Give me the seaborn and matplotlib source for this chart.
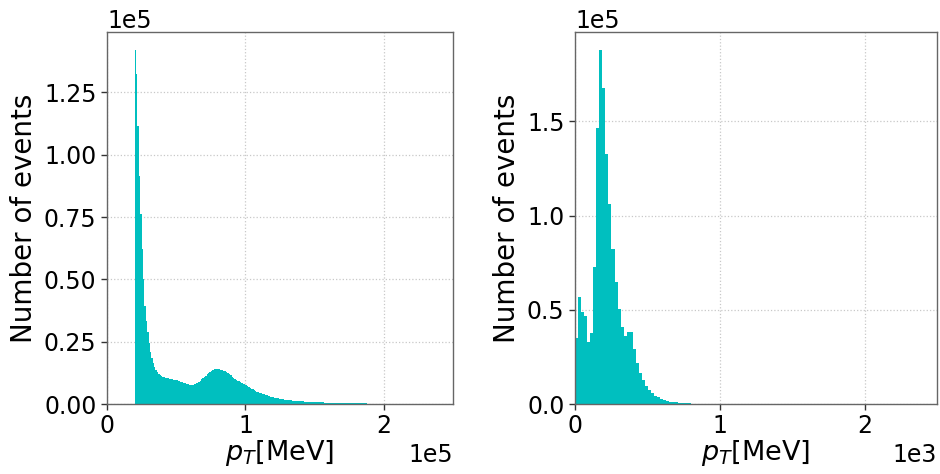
import numpy as np
import pandas as pd
import matplotlib
matplotlib.use("Agg")
import matplotlib.pyplot as plt
import seaborn as sns

# ---- data (counts per bin) ----
left_bin_start = 20000      # MeV
left_bin_width = 1000       # MeV
left_counts = [
    142100, 132500, 111600, 91600, 76200, 62200, 50100, 39400, 33400, 29000,
    24500, 21000, 18600, 16500, 14900, 13700, 12800, 12100, 11600, 11200,
    10900, 10700, 10500, 10400, 10300, 10200, 10000, 9900, 9800, 9600,
    9500, 9300, 9100, 8900, 8700, 8500, 8300, 8100, 7900, 7800,
    7700, 7700, 7800, 8000, 8300, 8600, 9000, 9400, 9900, 10300,
    10800, 11400, 12000, 12500, 13000, 13400, 13700, 13900, 14000, 14000,
    14000, 13900, 13800, 13600, 13400, 13100, 12700, 12300, 11900, 11500,
    11000, 10600, 10200, 9800, 9400, 9100, 8800, 8500, 8200, 7900,
    7700, 7300, 6900, 6600, 6200, 5900, 5600, 5300, 5000, 4700,
    4500, 4300, 4100, 3900, 3700, 3500, 3300, 3100, 3000, 2800,
    2700, 2600, 2400, 2300, 2200, 2100, 2000, 1900, 1800, 1700,
    1650, 1600, 1500, 1450, 1400, 1350, 1300, 1250, 1200, 1150,
    1100, 1050, 1000, 950, 900, 880, 850, 820, 800, 770,
    740, 720, 700, 680, 660, 640, 620, 600, 380, 370,
    360, 360, 350, 350, 340, 340, 330, 330, 320, 320,
    310, 310, 300, 300, 290, 290, 280, 280, 270, 270,
    260, 260, 250, 250, 250, 240, 240, 240,
]

right_bin_width = 21        # MeV
right_counts = [
    35000, 56800, 48800, 46500, 32700, 37700, 72500, 146500, 188100, 167700,
    132900, 106200, 82300, 64800, 50700, 40700, 35900, 38200, 38000, 29300,
    22000, 16300, 12500, 9700, 7200, 5800, 4000, 3500, 2800, 2300,
    1600, 1200, 1100, 800, 700, 500, 300, 300,
]

xtick_labels_left = [0, 1e5, 2e5]
ytick_left = [0, 0.25e5, 0.5e5, 0.75e5, 1.0e5, 1.25e5]
xtick_labels_right = [0, 1e3, 2e3]
ytick_right = [0, 0.5e5, 1.0e5, 1.5e5]

bar_color = "#00bfbf"

sns.set_style("ticks")
plt.rcParams['font.family'] = ['DejaVu Sans']
plt.rcParams['text.color'] = 'black'
plt.rcParams['axes.labelcolor'] = 'black'
plt.rcParams['xtick.color'] = 'black'
plt.rcParams['ytick.color'] = 'black'

fig = plt.figure(figsize=(9.4, 4.74), dpi=100)
ax1 = fig.add_axes([107 / 940, 70 / 474, 346 / 940, 372 / 474])
ax2 = fig.add_axes([575 / 940, 70 / 474, 362 / 940, 372 / 474])


def draw(ax, start, width, counts, xmax, xticks, yticks):
    n = len(counts)
    edges = [float(start + width * i) for i in range(n + 1)]
    centers = [(edges[i] + edges[i + 1]) / 2 for i in range(n)]
    df = pd.DataFrame({"pt": centers, "n": counts})
    sns.histplot(data=df, x="pt", weights="n", bins=edges, element="step",
                 fill=True, color=bar_color, alpha=1, linewidth=0, ax=ax)
    ax.set_xlim(0, xmax)
    ax.set_xticks(xticks)
    ax.set_yticks(yticks)
    ax.ticklabel_format(style='sci', axis='both', scilimits=(0, 0))
    ax.grid(True, linestyle=':', color='#c8c8c8', linewidth=0.9)
    ax.set_axisbelow(True)
    for s in ax.spines.values():
        s.set_visible(True)
        s.set_color('#666666')
        s.set_linewidth(1.0)
    ax.tick_params(axis='both', labelsize=17, length=4, width=1,
                   color='#333333', labelcolor='black', direction='out')
    ax.xaxis.get_offset_text().set_fontsize(17)
    ax.yaxis.get_offset_text().set_fontsize(17)
    ax.set_xlabel("$p_T$[MeV]", fontsize=19.5, color='black', labelpad=0)
    ax.set_ylabel("Number of events", fontsize=20, color='black')


draw(ax1, left_bin_start, left_bin_width, left_counts, 2.5e5,
     xtick_labels_left, ytick_left)
draw(ax2, 0, right_bin_width, right_counts, 2.5e3,
     xtick_labels_right, ytick_right)

fig.savefig("out.png", dpi=100)
